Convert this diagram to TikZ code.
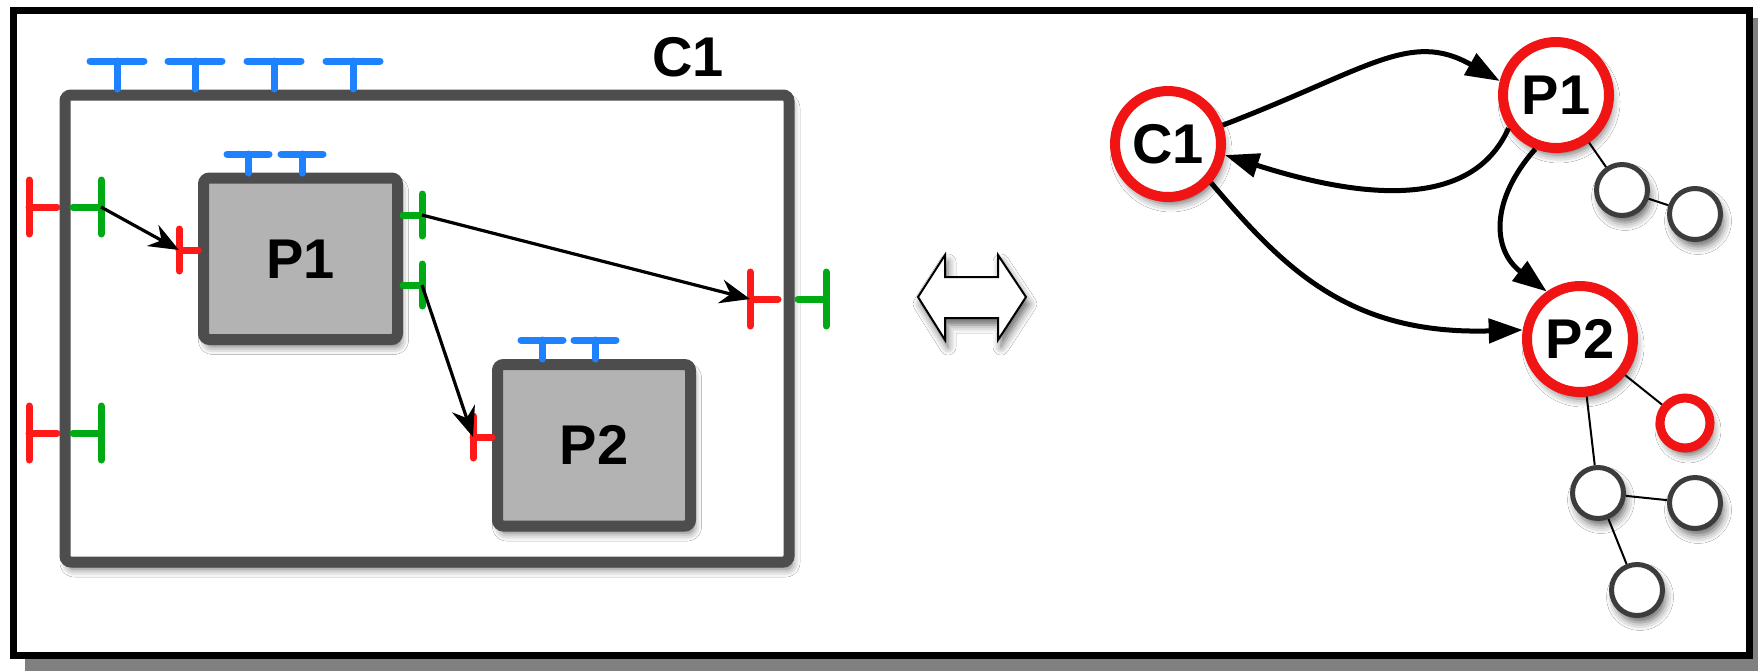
\documentclass[tikz,border=0pt]{standalone}
\usepackage{fontspec}
\setmainfont{Liberation Sans}
\usetikzlibrary{arrows.meta,shadows.blur}

\definecolor{boxline}{HTML}{4D4D4D}
\definecolor{boxfill}{HTML}{B3B3B3}
\definecolor{portred}{HTML}{FF1A1A}
\definecolor{portgreen}{HTML}{00AA14}
\definecolor{portblue}{HTML}{1E82FF}
\definecolor{ringred}{HTML}{F01414}
\definecolor{leafline}{HTML}{3C3C3C}

\begin{document}
\begin{tikzpicture}[x=0.5pt, y=-0.5pt,
    font = \fontsize{28}{30}\selectfont\bfseries,
    soft/.style = {blur shadow={shadow xshift=1.5pt, shadow yshift=-3.5pt,
                   shadow blur radius=4pt, shadow opacity=60}},
    container/.style = {draw=boxline, line width=5.5pt, rounded corners=3pt,
                   fill=white, soft, inner sep=0pt,
                   minimum width=362pt, minimum height=233.5pt},
    procbox/.style = {draw=boxline, line width=5.5pt, rounded corners=3pt,
                   fill=boxfill, soft, inner sep=0pt,
                   minimum width=97pt, minimum height=80.75pt},
    inport/.style = {color=portred, line width=3.5pt, line cap=round},
    outport/.style = {color=portgreen, line width=3.5pt, line cap=round},
    cfgport/.style = {color=portblue, line width=3.5pt, line cap=round},
    bigport/.pic = {\draw (0,0) -- (0,-28) (-27,-28) -- (27,-28);
                    \coordinate (-tip) at (0,-28);},
    smallport/.pic = {\draw (0,0) -- (0,-19) (-21,-19) -- (21,-19);
                      \coordinate (-tip) at (0,-19);},
    wire/.style = {line width=1.6pt, -{Stealth[length=15pt, width=12pt, inset=5pt]}},
    gnode/.style = {circle, draw=ringred, line width=5pt, fill=white,
                    minimum size=53pt, inner sep=0pt, soft},
    leaf/.style = {circle, draw=leafline, line width=2.5pt, fill=white,
                   minimum size=25.5pt, inner sep=0pt, soft},
    redleaf/.style = {leaf, draw=ringred, line width=4.5pt, minimum size=25pt},
    link/.style = {line width=2.5pt,
                   -{Triangle[length=17pt, width=12pt, fill=black, color=black]}},
    tree/.style = {line width=1pt}
    ]
    \useasboundingbox (0,0) rectangle (1758,671);
    \fill[white] (0,0) rectangle (1758,671);

    % frame with its flat shadow
    \fill[gray] (25,18) rectangle (1766,671);
    \draw[line width=3.5pt, fill=white] (13.5,10.5) rectangle (1749,655.5);

    % composite C1 and its parts
    \node[container] (c1box) at (427,328.5) {};
    \node (c1label) at (688,57) {C1};
    \node[procbox] (p1box) at (300.5,258.75) {P1};
    \node[procbox, minimum width=96.5pt] (p2box) at (594,445.25) {P2};

    \foreach \x in {117,195,274,353}
        \pic[cfgport] at (\x,89) {bigport};
    \pic[cfgport] at (248,173) {smallport};
    \pic[cfgport] at (302,173) {smallport};
    \pic[cfgport] at (542,359) {smallport};
    \pic[cfgport] at (595,359) {smallport};

    \pic[inport, rotate=90] (luo) at (57,207) {bigport};
    \pic[outport, rotate=-90] (lui) at (73,207) {bigport};
    \pic[inport, rotate=90] (llo) at (57,433) {bigport};
    \pic[outport, rotate=-90] (lli) at (73,433) {bigport};
    \pic[inport, rotate=90] (rti) at (778,299) {bigport};
    \pic[outport, rotate=-90] (rto) at (798,299) {bigport};

    \pic[inport, rotate=90] (p1in) at (198,250) {smallport};
    \pic[outport, rotate=-90] (p1o1) at (403,215) {smallport};
    \pic[outport, rotate=-90] (p1o2) at (403,285) {smallport};
    \pic[inport, rotate=90] (p2in) at (492,437) {smallport};

    \draw[wire] (lui-tip) -- (p1in-tip);
    \draw[wire] (p1o1-tip) -- (rti-tip);
    \draw[wire] (p1o2-tip) -- (p2in-tip);

    % equivalence sign
    \draw[line width=1pt, fill=white, soft] (918,297) -- (945,255) -- (945,277)
        -- (998,277) -- (998,255) -- (1026,297) -- (998,340) -- (998,318)
        -- (945,318) -- (945,340) -- cycle;

    % the same system as a graph
    \node[gnode] (gc1) at (1168,144) {C1};
    \node[gnode] (gp1) at (1556,95) {P1};
    \node[gnode] (gp2) at (1580,339) {P2};
    \node[leaf] (s1) at (1622,190) {};
    \node[leaf] (s2) at (1695,214) {};
    \node[redleaf] (r1) at (1685,423) {};
    \node[leaf] (a) at (1598,493) {};
    \node[leaf] (b) at (1695,503) {};
    \node[leaf] (c) at (1637,590) {};

    \draw[link] (gc1.19) .. controls (1369,69) and (1410,30) .. (gp1.166);
    \draw[link] (gp1.215) .. controls (1470,215) and (1350,195) .. (gc1.-11);
    \draw[link] (gp1.-111) .. controls (1490,200) and (1492,250) .. (gp2.125);
    \draw[link] (gc1.-42) .. controls (1285,270) and (1350,335) .. (gp2.171);

    \draw[tree] (gp1) -- (s1) -- (s2);
    \draw[tree] (gp2) -- (r1);
    \draw[tree] (gp2) -- (a) -- (b);
    \draw[tree] (a) -- (c);
\end{tikzpicture}
\end{document}
